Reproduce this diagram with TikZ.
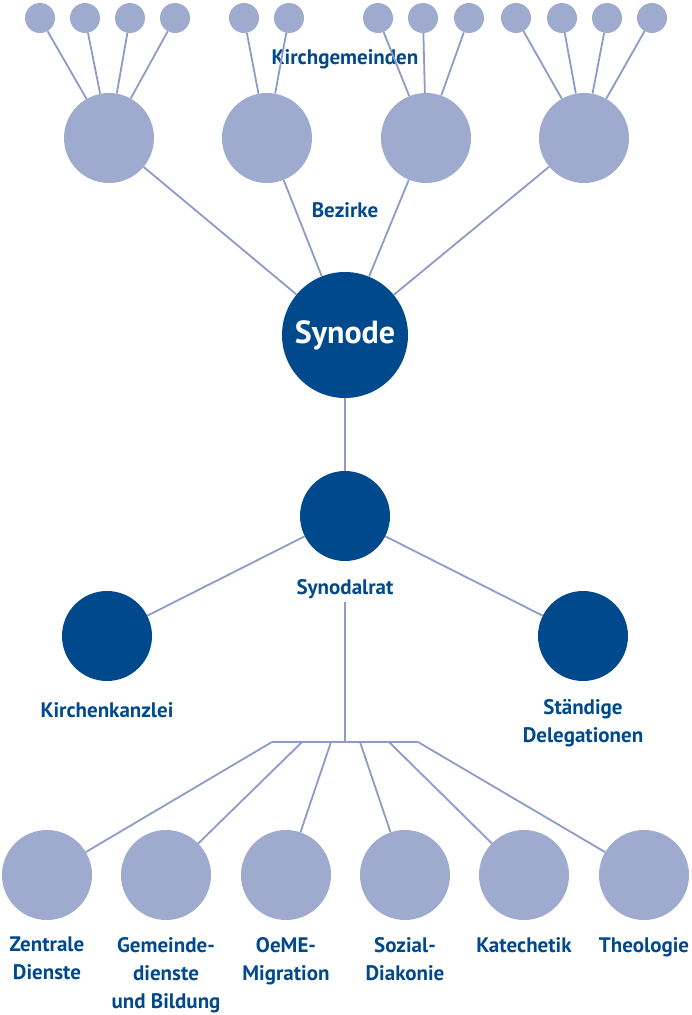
\documentclass[tikz,border=0pt]{standalone}
\usepackage{fontspec}
\setmainfont{PT Sans}
\definecolor{lightc}{HTML}{9FABCE}
\definecolor{linec}{HTML}{8D9BC8}
\definecolor{darkc}{HTML}{00498C}
\definecolor{textc}{HTML}{00498C}
\begin{document}
\begin{tikzpicture}[x=1pt,y=-1pt,
  small/.style={circle,fill=lightc,minimum size=30pt,inner sep=0pt},
  big/.style={circle,fill=lightc,minimum size=90pt,inner sep=0pt},
  dark/.style={circle,fill=darkc,minimum size=90pt,inner sep=0pt},
  lbl/.style={text=textc,font=\fontsize{21}{28}\selectfont\bfseries,align=center,inner sep=0pt},
  conn/.style={draw=linec,line width=1.8pt}]
\useasboundingbox (0,0) rectangle (691,1015);
% Bezirke
\node[big] (z1) at (109,138) {};
\node[big] (z2) at (267,138) {};
\node[big] (z3) at (426,138) {};
\node[big] (z4) at (584,138) {};
% Kirchgemeinden
\foreach \n/\x in {1/40,2/85,3/130,4/175,5/244,6/289,7/378,8/423,9/469,10/516,11/562,12/607,13/652}
  \node[small] (k\n) at (\x,18) {};
% Synode
\node[dark,minimum size=126pt,text=white,font=\fontsize{32}{36}\selectfont\bfseries] (syn) at (345,335) {Synode};
\node[dark] (sr) at (345,516) {};
\node[dark] (kk) at (107,636) {};
\node[dark] (sd) at (583,636) {};
% Bereiche
\foreach \n/\x in {1/47,2/166,3/286,4/405,5/524,6/644}
  \node[big] (d\n) at (\x,875) {};
% labels
\node[lbl] (lkg) at (345,59) {Kirchgemeinden};
\node[lbl] (lbz) at (345,210) {Bezirke};
\node[lbl,inner sep=3pt] (lsr) at (345,589) {Synodalrat};
\node[lbl] (lkk) at (107,710) {Kirchenkanzlei};
\node[lbl] (lsd) at (583,723) {Ständige\\Delegationen};
\node[lbl,anchor=north] (l1) at (47,937) {Zentrale\\Dienste};
\node[lbl,anchor=north] (l2) at (166,937) {Gemeinde-\\dienste\\und Bildung};
\node[lbl,anchor=north] (l3) at (286,937) {OeME-\\Migration};
\node[lbl,anchor=north] (l4) at (405,937) {Sozial-\\Diakonie};
\node[lbl,anchor=north] (l5) at (524,937) {Katechetik};
\node[lbl,anchor=north] (l6) at (644,937) {Theologie};
% hub coordinates
\coordinate (hub) at (345,742);
\foreach \n/\x in {1/272,2/302,3/331,4/360,5/389,6/418}
  \coordinate (b\n) at (\x,742);
% connectors
\begin{scope}[conn]
\foreach \n in {1,2,3,4} \draw (k\n) -- (z1);
\foreach \n in {5,6} \draw (k\n) -- (z2);
\foreach \n in {7,8,9} \draw (k\n) -- (z3);
\foreach \n in {10,11,12,13} \draw (k\n) -- (z4);
\foreach \n in {1,2,3,4} \draw (z\n) -- (syn);
\draw (syn) -- (sr);
\draw (sr) -- (kk);
\draw (sr) -- (sd);
\draw (lsr.south) -- (hub);
\draw (b1) -- (b6);
\foreach \n in {1,...,6} \draw (b\n) -- (d\n);
\end{scope}
\end{tikzpicture}
\end{document}
